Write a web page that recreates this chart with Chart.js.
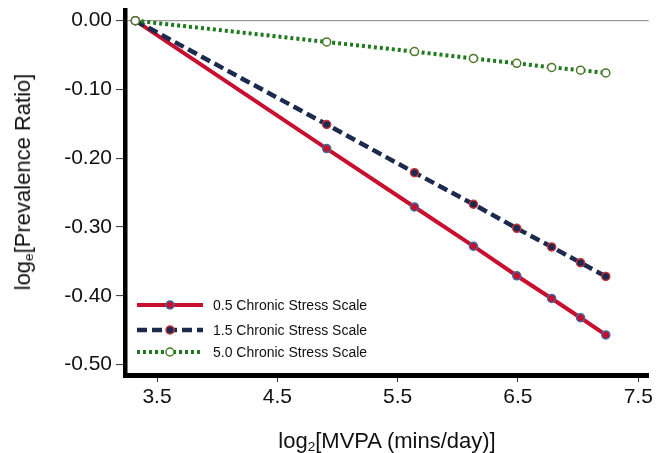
<!DOCTYPE html>
<html>
<head>
<meta charset="utf-8">
<script src="https://cdn.jsdelivr.net/npm/chart.js@4.4.0/dist/chart.umd.min.js"></script>
<style>
  html,body{margin:0;padding:0;background:#fff;}
  #wrap{position:relative;width:656px;height:453px;overflow:hidden;}
  canvas{display:block;}
  .ttl{position:absolute;font-family:"Liberation Sans",Arial,sans-serif;font-size:22px;color:#111;white-space:nowrap;line-height:1;}
  .ttl sub{font-size:0.62em;vertical-align:-0.22em;line-height:0;}
  #xTitle{left:387px;top:441px;transform:translate(-50%,-50%);}
  #yTitle{left:23px;top:182px;transform:translate(-50%,-50%) rotate(-90deg);}
</style>
</head>
<body>
<div id="wrap">
  <canvas id="chart" width="656" height="453"></canvas>
  <div class="ttl" id="xTitle">log<sub>2</sub>[MVPA (mins/day)]</div>
  <div class="ttl" id="yTitle">log<sub>e</sub>[Prevalence Ratio]</div>
</div>
<script>
  // Data
  const xMVPA    = [3.32, 4.91, 5.64, 6.13, 6.49, 6.78, 7.02, 7.23];
  const stress05 = [0, -0.186, -0.271, -0.328, -0.371, -0.404, -0.432, -0.457];
  const stress15 = [0, -0.151, -0.221, -0.267, -0.302, -0.329, -0.352, -0.372];
  const stress50 = [0, -0.031, -0.045, -0.055, -0.062, -0.068, -0.072, -0.076];
  const seriesLabels = ['0.5 Chronic Stress Scale', '1.5 Chronic Stress Scale', '5.0 Chronic Stress Scale'];
  const xTicks = [3.5, 4.5, 5.5, 6.5, 7.5];
  const yTicks = [0, -0.1, -0.2, -0.3, -0.4, -0.5];

  const FONT = '"Liberation Sans", Arial, sans-serif';
  const pts = ys => xMVPA.map((x,i)=>({x, y: ys[i]}));

  const datasets = [
    { label: seriesLabels[0], data: pts(stress05), borderColor:'#c8102e', borderWidth:4,
      pointBackgroundColor:'#c8102e', pointBorderColor:'#3f6aa0', order:2 },
    { label: seriesLabels[1], data: pts(stress15), borderColor:'#1c2a4e', borderWidth:4.5, borderDash:[10,5],
      pointBackgroundColor:'#1c2a4e', pointBorderColor:'#c8323a', order:1 },
    { label: seriesLabels[2], data: pts(stress50), borderColor:'#1f7a1f', borderWidth:4, borderDash:[3,3],
      pointBackgroundColor:'#ffffff', pointBorderColor:'#4a7a2a', order:0 }
  ].map(d=>Object.assign({ pointRadius:4, pointHoverRadius:4, pointBorderWidth:1.5, tension:0, fill:false }, d));

  // Legend drawn inside the plot, bottom-left
  const insideLegend = {
    id:'insideLegend',
    afterDraw(chart){
      const {ctx, chartArea:ca} = chart;
      const x0 = ca.left + 12, x1 = ca.left + 78, xm = (x0 + x1) / 2;
      const rows = [ca.bottom - 70, ca.bottom - 45, ca.bottom - 23];
      chart.data.datasets.forEach((ds,i)=>{
        const y = rows[i];
        ctx.save();
        ctx.strokeStyle = ds.borderColor;
        ctx.lineWidth = ds.borderWidth;
        ctx.setLineDash(ds.borderDash || []);
        ctx.beginPath(); ctx.moveTo(x0, y); ctx.lineTo(x1, y); ctx.stroke();
        ctx.setLineDash([]);
        ctx.beginPath(); ctx.arc(xm, y, 4, 0, Math.PI*2);
        ctx.fillStyle = ds.pointBackgroundColor; ctx.fill();
        ctx.lineWidth = 1.5; ctx.strokeStyle = ds.pointBorderColor; ctx.stroke();
        ctx.fillStyle = '#111';
        ctx.font = '14px ' + FONT;
        ctx.textAlign = 'left'; ctx.textBaseline = 'middle';
        ctx.fillText(ds.label, x1 + 10, y + 1);
        ctx.restore();
      });
    }
  };

  new Chart(document.getElementById('chart'), {
    type:'line',
    data:{ datasets },
    plugins:[insideLegend],
    options:{
      responsive:false,
      devicePixelRatio:1,
      animation:false,
      layout:{ padding:{ top:10, right:7, left:0, bottom:0 } },
      plugins:{ legend:{ display:false }, tooltip:{ enabled:false } },
      scales:{
        x:{
          type:'linear', min:3.234, max:7.586,
          afterBuildTicks: s => { s.ticks = xTicks.map(v=>({value:v})); },
          afterFit: s => { s.height = 78; },
          ticks:{ callback: v => v.toFixed(1), font:{ family:FONT, size:21 }, color:'#111', padding:3, maxRotation:0 },
          grid:{ drawOnChartArea:false, tickLength:7, tickColor:'#333', tickWidth:1 },
          border:{ color:'#000', width:5 }
        },
        y:{
          type:'linear', min:-0.5153, max:0.0155,
          afterBuildTicks: s => { s.ticks = yTicks.map(v=>({value:v})); },
          afterFit: s => { s.width = 125; s.paddingTop = 0; s.paddingBottom = 0; },
          ticks:{ callback: v => v.toFixed(2), font:{ family:FONT, size:21, lineHeight:0.8 }, color:'#111', padding:4 },
          grid:{ color: c => (c.tick && c.tick.value === 0) ? '#999999' : 'rgba(0,0,0,0)', lineWidth:1.2,
                 tickLength:9, tickColor:'#333', tickWidth:1 },
          border:{ color:'#000', width:4.5 }
        }
      }
    }
  });
</script>
</body>
</html>
